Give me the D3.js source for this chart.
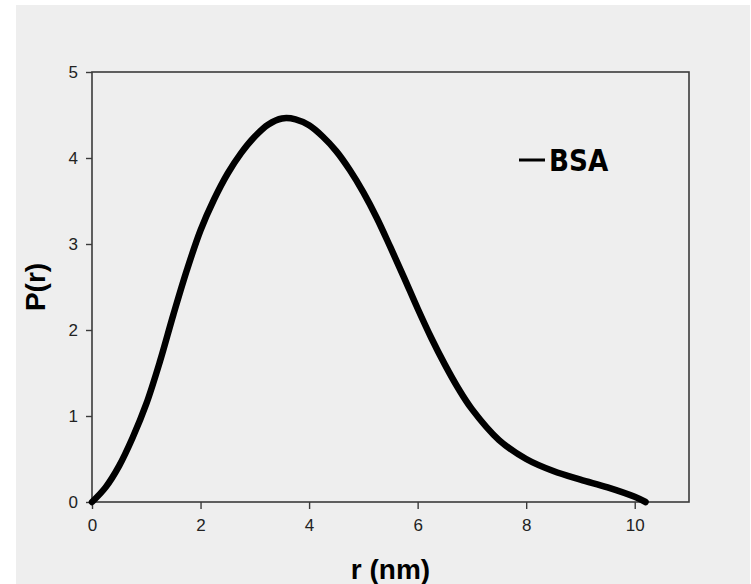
<!DOCTYPE html>
<html>
<head>
<meta charset="utf-8">
<script src="https://cdn.jsdelivr.net/npm/d3@7"></script>
<style>
  html, body { margin: 0; padding: 0; background: #ffffff; }
  svg { display: block; }
</style>
</head>
<body>
<svg id="chart" width="751" height="584"></svg>
<script>
// Pair distance distribution P(r) of BSA
const rValues = [0, 0.25, 0.5, 0.75, 1.0, 1.25, 1.5, 1.75, 2.0, 2.25, 2.5, 2.75, 3.0, 3.25, 3.5, 3.75, 4.0, 4.25, 4.5, 4.75, 5.0, 5.25, 5.5, 5.75, 6.0, 6.25, 6.5, 6.75, 7.0, 7.5, 8.0, 8.5, 9.0, 9.5, 10.0, 10.2];
const pValues = [0, 0.17, 0.42, 0.75, 1.14, 1.63, 2.18, 2.70, 3.16, 3.52, 3.82, 4.06, 4.25, 4.39, 4.46, 4.45, 4.38, 4.25, 4.08, 3.86, 3.60, 3.30, 2.96, 2.61, 2.25, 1.91, 1.60, 1.32, 1.08, 0.72, 0.50, 0.36, 0.26, 0.17, 0.06, 0.0];
const seriesName = "BSA";
const xTicks = [0, 2, 4, 6, 8, 10];
const yTicks = [0, 1, 2, 3, 4, 5];
const xTitle = "r (nm)";
const yTitle = "P(r)";

const svg = d3.select("#chart");
const W = 751, H = 584;
const margin = { left: 92, top: 72, right: W - 689, bottom: H - 502 };
const innerW = W - margin.left - margin.right;
const innerH = H - margin.top - margin.bottom;

// Panel background
svg.append("rect")
  .attr("x", 16).attr("y", 5)
  .attr("width", W - 17).attr("height", H - 5)
  .attr("fill", "#eeeeee");

const x = d3.scaleLinear().domain([0, 11]).range([margin.left, margin.left + innerW]);
const y = d3.scaleLinear().domain([0, 5]).range([margin.top + innerH, margin.top]);

// Frame
svg.append("rect")
  .attr("x", margin.left).attr("y", margin.top)
  .attr("width", innerW).attr("height", innerH)
  .attr("fill", "none")
  .attr("stroke", "#3a3a3a")
  .attr("stroke-width", 1.6);

const tickFont = "'Liberation Sans', Arial, sans-serif";

const xAxis = svg.append("g")
  .attr("transform", `translate(0,${margin.top + innerH})`)
  .call(d3.axisBottom(x).tickValues(xTicks).tickFormat(d3.format("d")).tickSize(7).tickPadding(10));
const yAxis = svg.append("g")
  .attr("transform", `translate(${margin.left},0)`)
  .call(d3.axisLeft(y).tickValues(yTicks).tickFormat(d3.format("d")).tickSize(6).tickPadding(8));

[xAxis, yAxis].forEach(g => {
  g.attr("font-family", tickFont).attr("font-size", 17);
  g.select(".domain").remove();
  g.selectAll(".tick line").attr("stroke", "#3a3a3a").attr("stroke-width", 1.4);
  g.selectAll(".tick text")
    .attr("fill", "#222")
    .attr("font-size", 17);
});

// Curve
const data = rValues.map((r, i) => ({ r, p: pValues[i] }));
const line = d3.line()
  .x(d => x(d.r))
  .y(d => y(d.p))
  .curve(d3.curveCatmullRom.alpha(0.5));

svg.append("path")
  .datum(data)
  .attr("d", line)
  .attr("fill", "none")
  .attr("stroke", "#000")
  .attr("stroke-width", 6.5)
  .attr("stroke-linecap", "round")
  .attr("stroke-linejoin", "round");

// Legend
svg.append("line")
  .attr("x1", 519).attr("x2", 545)
  .attr("y1", 160).attr("y2", 160)
  .attr("stroke", "#000")
  .attr("stroke-width", 3);
svg.append("text")
  .attr("transform", "translate(549,171) scale(1.05,1.22)")
  .attr("fill", "#000")
  .style("font-family", "'DejaVu Sans', sans-serif")
  .style("font-weight", "bold")
  .style("font-size", "25px")
  .text(seriesName);

// Axis titles
svg.append("text")
  .attr("x", margin.left + innerW / 2)
  .attr("y", 579)
  .attr("text-anchor", "middle")
  .attr("fill", "#000")
  .style("font-family", tickFont)
  .style("font-weight", "bold")
  .style("font-size", "28px")
  .text(xTitle);

svg.append("text")
  .attr("transform", "translate(45,287) rotate(-90)")
  .attr("text-anchor", "middle")
  .attr("fill", "#000")
  .style("font-family", tickFont)
  .style("font-weight", "bold")
  .style("font-size", "28px")
  .text(yTitle);
</script>
</body>
</html>
